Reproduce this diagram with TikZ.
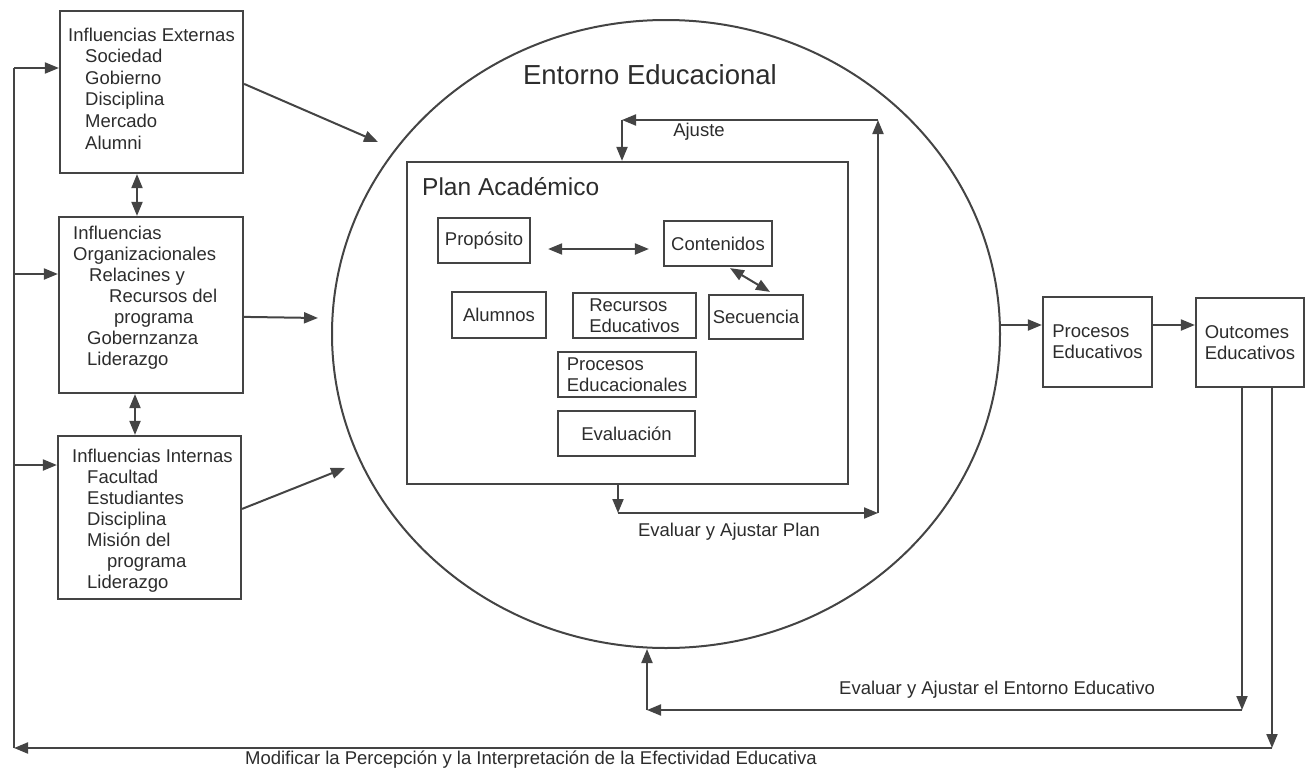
\documentclass[tikz,border=0pt]{standalone}
\usepackage{fontspec}
\setmainfont{Liberation Sans}
\usetikzlibrary{arrows.meta,shapes.geometric,calc}
\definecolor{ln}{HTML}{444444}
\definecolor{tx}{HTML}{2c2c2c}
\begin{document}
\begin{tikzpicture}[x=1pt,y=-1pt,
  box/.style={draw=ln, line width=2.2pt, inner sep=0pt, align=left, font=\fontsize{18.5}{21}\selectfont, text=tx},
  lbl/.style={inner sep=0pt, font=\fontsize{18.5}{21}\selectfont, text=tx},
  con/.style={draw=ln, line width=2pt},
  tip/.style={con, -{Triangle[length=14pt,width=11pt]}},
  dtip/.style={con, {Triangle[length=14pt,width=11pt]}-{Triangle[length=14pt,width=11pt]}},
]
\useasboundingbox (0,0) rectangle (1312,771);

% left boxes
\node[box, minimum width=183pt, minimum height=162pt] (ext) at (151.5,92) {};
\node[box, minimum width=184pt, minimum height=176pt] (org) at (151,305) {};
\node[box, minimum width=183pt, minimum height=163pt] (int) at (149.5,517.5) {};

\node[lbl, anchor=base west, font=\fontsize{18.5}{21.6}\selectfont] (extt) at (68,41) {\parbox[t]{180pt}{Influencias Externas\\
\hspace*{17pt}Sociedad\\
\hspace*{17pt}Gobierno\\
\hspace*{17pt}Disciplina\\
\hspace*{17pt}Mercado\\
\hspace*{17pt}Alumni}};

\node[lbl, anchor=base west] (orgt) at (73,239) {\parbox[t]{180pt}{Influencias\\
Organizacionales\\
\hspace*{16pt}Relacines y\\
\hspace*{36pt}Recursos del\\
\hspace*{41pt}programa\\
\hspace*{14pt}Gobernzanza\\
\hspace*{14pt}Liderazgo}};

\node[lbl, anchor=base west] (intt) at (72,462) {\parbox[t]{180pt}{Influencias Internas\\
\hspace*{15pt}Facultad\\
\hspace*{15pt}Estudiantes\\
\hspace*{15pt}Disciplina\\
\hspace*{15pt}Misión del\\
\hspace*{35pt}programa\\
\hspace*{15pt}Liderazgo}};

% environment
\node[draw=ln, line width=2pt, ellipse, inner sep=0pt, minimum width=668pt, minimum height=628pt] (env) at (666,334) {};
\node[lbl, font=\fontsize{27.5}{30}\selectfont] (envt) at (650,75) {Entorno Educacional};

% plan
\node[box, minimum width=441pt, minimum height=322pt] (plan) at (627.5,323) {};
\node[lbl, anchor=base west, font=\fontsize{24.5}{28}\selectfont] (plant) at (422,195) {Plan Académico};

\node[box, minimum width=92pt, minimum height=45pt] (prop) at (484,240.5) {Propósito};
\node[box, minimum width=108pt, minimum height=45pt] (cont) at (718,243.5) {Contenidos};
\node[box, minimum width=94pt, minimum height=46pt] (alum) at (499,315) {Alumnos};
\node[box, minimum width=123pt, minimum height=45pt] (recu) at (634.5,315.5) {Recursos\\Educativos};
\node[box, minimum width=94pt, minimum height=44pt] (secu) at (756,317) {Secuencia};
\node[box, minimum width=138pt, minimum height=45pt] (proc) at (627,374.5) {Procesos\\Educacionales};
\node[box, minimum width=137pt, minimum height=45pt] (eval) at (626.5,433.5) {Evaluación};

\draw[dtip] ($(prop.east)+(17,8.5)$) -- ($(cont.west)+(-14,5.5)$);
\draw[dtip] ($(cont.south)+(12,1)$) -- ($(secu.north)+(14,-2)$);

% right boxes
\node[box, minimum width=109pt, minimum height=90pt] (pe) at (1097.5,342) {Procesos\\Educativos};
\node[box, minimum width=108pt, minimum height=89pt] (out) at (1250,342.5) {Outcomes\\Educativos};

% coordinates
\coordinate (a1) at (618,513);
\coordinate (a2) at (878,513);
\coordinate (a3) at (878,120);
\coordinate (a4) at (622,120);
\coordinate (e1) at (378,142);
\coordinate (o1) at (318,318);
\coordinate (i1) at (345,468);
\coordinate (l0) at (14,748);
\coordinate (l1) at (14,68);
\coordinate (l2) at (14,274);
\coordinate (l3) at (14,465);
\coordinate (b1) at (1272,748);
\coordinate (c1) at (1242,710);
\coordinate (c2) at (647,710);
\coordinate (ep) at (1000,325);

% plan loop
\draw[tip] (plan.south -| a1) -- (a1);
\draw[tip] (a1) -- (a2);
\draw[tip] (a2) -- (a3);
\draw[tip] (a3) -- (a4);
\draw[tip] (a4) -- (a4 |- plan.north);
\node[lbl] (ajt) at (699,132) {Ajuste};
\node[lbl] (evp) at (729,532) {Evaluar y Ajustar Plan};

% left arrows
\draw[dtip] (ext.south -| 137,0) -- (org.north -| 137,0);
\draw[dtip] (org.south -| 135,0) -- (int.north -| 135,0);
\draw[tip] ($(ext.north east)+(0,74)$) -- (e1);
\draw[tip] ($(org.north east)+(0,101)$) -- (o1);
\draw[tip] ($(int.north east)+(0,74)$) -- (i1);

% right flow
\draw[tip] (ep) -- (ep -| pe.west);
\draw[tip] (ep -| pe.east) -- (ep -| out.west);

% feedback loops
\draw[tip] (out.south -| c1) -- (c1);
\draw[tip] (c1) -- (c2);
\draw[tip] (c2) -- (c2 |- env.south);
\node[lbl] (eae) at (997,690) {Evaluar y Ajustar el Entorno Educativo};

\draw[tip] (out.south -| b1) -- (b1);
\draw[tip] (b1) -- (l0);
\draw[con] (l0) -- (l1);
\draw[tip] (l1) -- (l1 -| ext.west);
\draw[tip] (l2) -- (l2 -| org.west);
\draw[tip] (l3) -- (l3 -| int.west);
\node[lbl] (mod) at (531,760) {Modificar la Percepción y la Interpretación de la Efectividad Educativa};
\end{tikzpicture}
\end{document}
